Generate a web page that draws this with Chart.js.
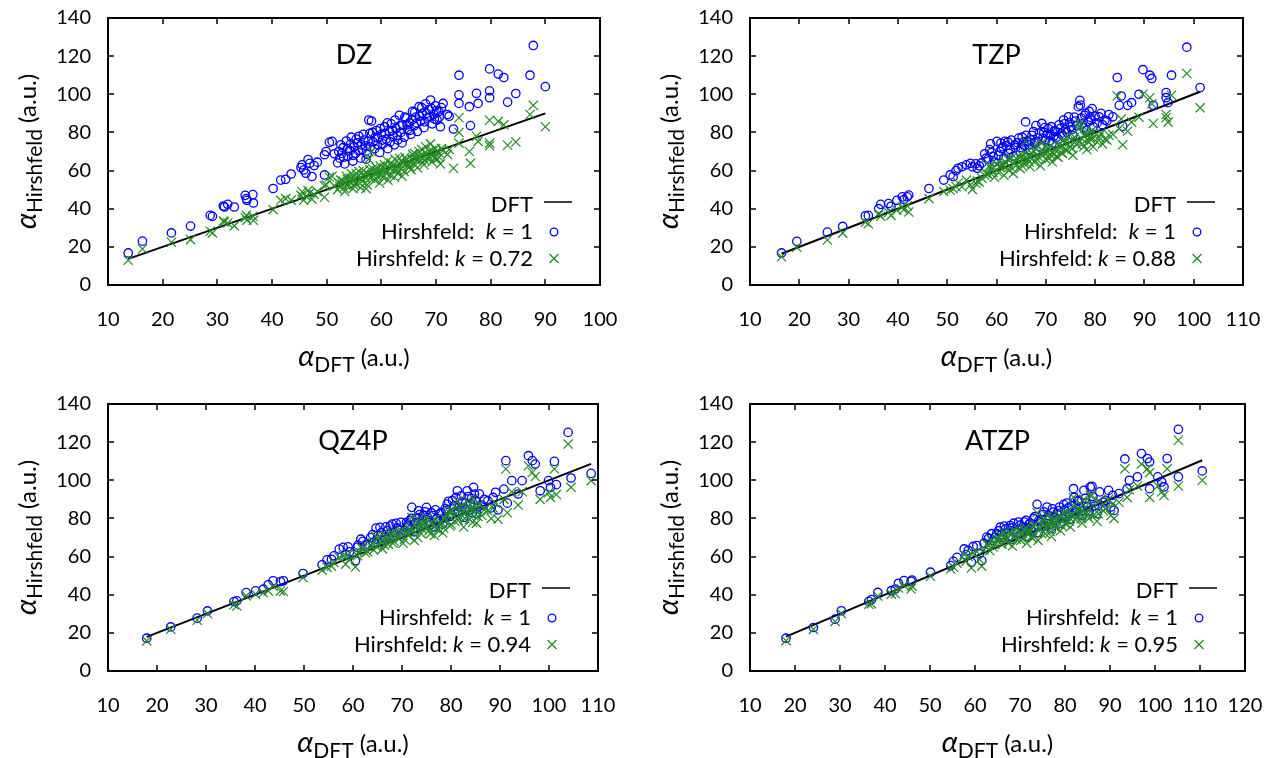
<!DOCTYPE html>
<html>
<head>
<meta charset="utf-8">
<script src="https://cdn.jsdelivr.net/npm/chart.js@4.4.0/dist/chart.umd.min.js"></script>
<style>
  body { margin: 0; background: #fff; }
  .panel { position: absolute; }
</style>
</head>
<body>
<div class="panel" style="left:0;top:0"><canvas id="dz" width="635" height="385"></canvas></div>
<div class="panel" style="left:635px;top:0"><canvas id="tzp" width="635" height="385"></canvas></div>
<div class="panel" style="left:0;top:385px"><canvas id="qz4p" width="635" height="373"></canvas></div>
<div class="panel" style="left:635px;top:385px"><canvas id="atzp" width="635" height="373"></canvas></div>
<script>
// Data (a.u.): DFT polarizability and the two Hirshfeld estimates
const yTicks = [0, 20, 40, 60, 80, 100, 120, 140];

// DZ
const dzXTicks = [10, 20, 30, 40, 50, 60, 70, 80, 90, 100];
const dzDft = [13.7, 16.3, 21.6, 25.1, 28.7, 29.1, 31.1, 31.9, 31.3, 33.1, 35.1, 35.3, 35.4, 36.5, 36.6, 40.2, 41.6, 42.5, 43.5, 45.3,
  45.5, 45.8, 46.2, 46.6, 46.9, 47.3, 47.7, 48.3, 49.6, 49.9, 49.6, 50.5, 51.0, 51.4, 52.0, 52.4, 52.8, 53.0, 53.3, 53.6,
  53.9, 54.2, 54.5, 54.8, 55.0, 55.3, 55.6, 55.9, 56.2, 56.5, 56.8, 57.1, 57.4, 57.7, 57.9, 58.2, 58.5, 58.8, 59.1, 59.4,
  59.7, 60.0, 60.3, 60.6, 60.9, 61.2, 61.5, 61.8, 62.1, 62.4, 62.7, 63.0, 63.3, 63.6, 63.9, 64.2, 64.5, 64.8, 65.1, 65.4,
  65.7, 66.0, 66.3, 66.6, 66.9, 67.2, 67.5, 67.8, 68.1, 68.4, 68.7, 69.0, 69.3, 69.6, 69.9, 70.2, 70.5, 70.8, 71.3, 72.1,
  72.4, 73.2, 74.2, 74.2, 74.2, 76.1, 76.3, 77.4, 77.7, 79.8, 79.8, 79.8, 81.4, 82.4, 83.1, 84.6, 87.2, 87.8, 90.0,
  52.2, 52.6, 53.1, 53.8, 54.4, 54.9, 55.4, 55.8, 56.3, 56.7, 57.2, 57.6, 58.0, 58.4, 58.9, 59.3, 59.8, 60.2, 60.7, 61.1,
  61.6, 62.0, 62.5, 62.9, 63.4, 63.8, 64.3, 64.7, 65.2, 65.6, 66.1, 66.5, 67.0, 67.4, 67.9, 68.3, 68.8, 69.2, 69.7, 70.1,
  70.6, 71.0];
const dzK1 = [16.8, 23.0, 27.3, 30.9, 36.5, 36.0, 41.4, 42.3, 40.9, 40.9, 47.0, 45.3, 44.4, 47.4, 43.0, 50.6, 55.0, 55.4, 58.2, 61.6,
  63.0, 60.3, 58.6, 65.8, 63.8, 56.9, 62.6, 64.4, 68.3, 70.0, 57.7, 74.8, 75.3, 68.8, 64.0, 66.5, 69.0, 72.0, 63.5, 75.5,
  67.5, 70.5, 77.5, 65.0, 72.5, 69.0, 74.5, 78.0, 66.5, 71.0, 76.0, 73.0, 68.5, 86.5, 79.5, 86.0, 75.0, 71.5, 81.0, 77.0,
  69.5, 79.0, 74.0, 83.0, 76.5, 71.5, 80.5, 84.5, 78.0, 73.5, 82.0, 76.0, 89.0, 80.0, 84.0, 77.5, 87.5, 81.5, 85.0, 79.0,
  91.0, 83.5, 88.0, 80.5, 93.5, 86.0, 90.0, 82.5, 95.0, 87.5, 92.0, 97.0, 84.5, 89.5, 94.0, 86.5, 91.0, 83.0, 95.2, 89.4,
  88.5, 81.8, 110.0, 99.7, 95.2, 93.5, 83.6, 100.5, 95.2, 113.3, 101.8, 98.2, 110.6, 108.8, 95.9, 100.4, 110.0, 125.6, 104.0,
  70.0, 73.5, 67.0, 71.5, 74.0, 68.0, 76.5, 70.5, 73.5, 79.0, 66.0, 75.5, 72.5, 80.0, 77.5, 73.5, 82.0, 76.0, 79.5, 85.0,
  75.0, 81.0, 86.5, 78.5, 83.5, 74.5, 88.0, 84.0, 81.0, 86.5, 90.5, 85.0, 88.5, 93.0, 85.5, 90.0, 88.0, 92.5, 87.0, 91.5,
  88.0, 93.0];
const dzK072 = [13.0, 18.9, 22.4, 23.8, 28.2, 27.3, 33.5, 32.5, 33.0, 31.0, 35.3, 36.5, 34.0, 36.0, 33.9, 39.5, 44.4, 45.3, 44.5, 47.0,
  48.9, 44.4, 46.5, 49.5, 48.2, 45.0, 47.5, 49.0, 52.0, 52.5, 46.0, 56.5, 57.0, 52.0, 50.0, 51.5, 53.0, 54.5, 49.0, 57.0,
  52.0, 54.0, 58.5, 50.5, 55.0, 53.0, 56.5, 59.5, 51.0, 54.5, 58.0, 56.0, 52.5, 66.0, 60.5, 70.0, 57.5, 55.0, 61.5, 59.0,
  53.5, 60.0, 56.5, 63.0, 58.5, 55.0, 61.5, 64.0, 60.0, 56.5, 62.5, 58.5, 66.5, 61.0, 64.0, 59.5, 66.0, 62.5, 64.5, 60.5,
  68.5, 63.5, 66.5, 61.5, 70.0, 65.5, 68.0, 63.0, 72.5, 66.5, 70.0, 74.0, 64.5, 68.0, 71.5, 66.0, 69.5, 63.5, 70.5, 68.5,
  71.0, 61.2, 87.7, 80.0, 74.4, 70.0, 63.8, 78.0, 75.3, 86.4, 74.4, 73.0, 85.8, 84.0, 73.3, 75.0, 89.4, 94.2, 83.0,
  53.5, 55.0, 51.0, 55.5, 56.0, 52.5, 58.5, 54.0, 56.5, 60.0, 50.5, 58.0, 56.0, 61.0, 59.5, 57.0, 62.5, 58.0, 61.0, 65.0,
  57.5, 62.0, 66.0, 60.5, 63.5, 57.0, 67.0, 64.0, 62.0, 66.0, 69.0, 65.0, 67.5, 71.0, 65.5, 69.0, 67.0, 70.5, 66.5, 70.0,
  67.0, 71.5];

// TZP
const tzpXTicks = [10, 20, 30, 40, 50, 60, 70, 80, 90, 100, 110];
const tzpDft = [16.4, 19.5, 25.7, 28.8, 33.4, 34.0, 36.1, 36.5, 38.1, 38.6, 39.8, 40.9, 41.2, 41.9, 42.2, 46.3, 49.3, 50.6, 51.2, 51.8,
  52.2, 53.0, 53.9, 54.7, 55.1, 55.8, 56.1, 57.6, 58.8, 60.1, 60.9, 61.7, 58.3, 59.0, 59.6, 60.4, 61.0, 61.5, 62.0, 62.5,
  63.0, 63.4, 63.9, 64.3, 64.8, 65.2, 65.7, 65.9, 66.3, 66.8, 67.2, 67.7, 68.0, 68.4, 68.9, 69.2, 69.6, 70.0, 70.5, 70.9,
  71.3, 71.8, 72.2, 72.7, 73.1, 73.6, 74.0, 74.6, 75.0, 75.5, 76.0, 76.6, 76.9, 77.0, 77.4, 77.9, 78.3, 78.8, 79.2, 79.6,
  80.0, 80.8, 81.5, 82.0, 82.8, 83.6, 84.5, 84.9, 85.3, 85.6, 86.6, 87.4, 88.9, 89.7, 91.1, 91.5, 91.8, 94.4, 94.4, 94.8,
  95.5, 98.6, 101.3,
  56.5, 57.0, 57.9, 58.6, 59.3, 60.7, 61.3, 62.3, 62.8, 63.7, 64.5, 65.0, 65.5, 66.0, 66.6, 67.0, 67.5, 68.2, 68.7, 69.4,
  69.8, 70.3, 70.7, 71.1, 71.6, 72.0, 72.5, 72.9, 73.4, 73.8, 74.3, 74.8, 75.3, 75.8, 76.3, 77.2, 77.7, 78.1, 78.6, 79.0,
  79.4, 80.4, 81.2, 82.4];
const tzpK1 = [16.8, 22.9, 27.7, 30.7, 36.3, 36.5, 40.0, 42.3, 42.7, 41.3, 44.4, 46.2, 44.8, 46.2, 47.1, 50.6, 55.0, 57.7, 56.8, 60.0,
  61.2, 62.0, 63.0, 63.8, 62.0, 63.5, 61.2, 68.8, 74.0, 75.3, 74.4, 75.3, 66.0, 69.5, 64.5, 68.0, 71.5, 66.5, 73.0, 69.0,
  76.0, 67.5, 72.0, 74.5, 70.0, 77.5, 73.0, 85.5, 75.5, 71.0, 78.5, 74.5, 83.6, 77.0, 72.5, 84.7, 80.0, 76.0, 82.0, 78.5,
  74.5, 81.0, 77.5, 84.0, 79.5, 86.5, 81.5, 88.2, 83.0, 78.5, 86.0, 93.5, 96.8, 94.3, 84.5, 89.0, 81.0, 91.0, 86.5, 83.0,
  88.5, 88.2, 84.0, 86.5, 89.4, 88.2, 108.8, 94.2, 99.1, 83.2, 94.2, 95.6, 100.0, 112.9, 110.0, 108.3, 94.2, 100.9, 98.2, 95.6,
  110.0, 124.7, 103.5,
  62.5, 64.0, 66.5, 71.0, 67.5, 70.0, 72.5, 75.0, 71.0, 73.5, 77.0, 72.0, 75.0, 78.5, 73.5, 76.0, 80.5, 75.0, 79.5, 77.0,
  82.5, 79.0, 75.5, 83.0, 78.0, 80.5, 76.5, 82.0, 78.5, 84.5, 80.0, 85.0, 81.5, 88.0, 83.5, 87.5, 82.5, 90.0, 85.5, 88.0,
  92.5, 85.0, 90.0, 86.0];
const tzpK088 = [14.8, 19.8, 23.6, 27.2, 33.0, 32.1, 37.4, 36.0, 38.0, 36.5, 39.2, 40.9, 39.5, 41.5, 38.3, 45.3, 49.0, 49.7, 50.5, 51.5,
  53.5, 51.5, 55.0, 52.4, 50.1, 53.3, 54.5, 57.5, 62.0, 63.5, 62.0, 64.5, 58.0, 60.5, 56.5, 59.0, 63.0, 57.5, 64.0, 60.0,
  66.5, 58.5, 62.5, 65.5, 61.0, 68.0, 63.5, 75.5, 66.0, 62.0, 69.0, 64.5, 73.5, 67.5, 62.5, 74.5, 70.0, 66.0, 72.0, 68.5,
  64.5, 71.0, 67.5, 73.5, 69.5, 76.0, 71.0, 77.5, 72.5, 68.0, 75.5, 82.0, 85.0, 83.0, 74.0, 78.0, 71.0, 80.0, 76.0, 72.5,
  78.0, 77.5, 74.0, 76.5, 78.5, 79.0, 99.1, 82.0, 87.0, 73.5, 80.6, 85.4, 88.0, 100.0, 98.2, 95.0, 84.7, 89.4, 87.7, 85.4,
  99.5, 110.9, 92.9,
  54.0, 56.0, 58.5, 62.5, 59.0, 61.5, 63.0, 66.0, 62.0, 64.5, 67.5, 63.0, 66.0, 69.0, 64.5, 67.0, 70.5, 66.0, 69.5, 68.0,
  72.5, 69.5, 66.5, 73.0, 68.5, 71.0, 67.0, 72.0, 69.0, 74.5, 70.5, 75.0, 71.5, 77.5, 73.5, 77.0, 72.5, 79.5, 75.5, 77.5,
  81.0, 75.0, 79.5, 76.0];

// QZ4P
const qzXTicks = [10, 20, 30, 40, 50, 60, 70, 80, 90, 100, 110];
const qzDft = [17.9, 22.8, 28.2, 30.3, 35.7, 36.3, 38.2, 40.1, 41.7, 42.7, 43.7, 45.2, 45.8, 49.8, 53.7, 54.7, 55.6, 56.1, 57.2, 58.0,
  58.5, 59.0, 59.3, 60.5, 60.9, 61.6, 62.5, 63.6, 64.2, 64.7, 65.1, 65.5, 66.0, 66.7, 67.2, 68.0, 68.4, 68.8, 69.5, 70.2,
  70.9, 71.3, 71.7, 72.0, 72.5, 73.0, 73.4, 73.9, 74.3, 75.0, 75.5, 76.0, 76.6, 77.1, 77.7, 78.3, 78.8, 79.2, 79.8, 80.3,
  80.8, 81.3, 81.7, 82.1, 82.6, 83.0, 83.3, 83.8, 84.2, 84.6, 84.8, 85.2, 85.8, 86.3, 87.5, 88.2, 89.1, 89.6, 90.8, 91.2,
  91.5, 92.4, 93.7, 94.5, 95.8, 96.6, 97.2, 98.2, 99.9, 100.3, 101.1, 101.5, 103.9, 104.5, 108.6,
  61.0, 62.0, 63.0, 64.0, 64.9, 65.8, 66.4, 67.0, 67.6, 68.2, 69.0, 69.8, 70.5, 71.1, 71.9, 72.7, 73.2, 73.6, 74.1, 74.7,
  75.2, 75.8, 76.3, 76.8, 77.4, 78.0, 78.5, 79.0, 79.5, 80.0, 80.6, 81.0, 81.5, 82.3, 82.8, 83.5, 84.0, 84.4, 85.0, 85.5,
  86.8, 88.6];
const qzK1 = [17.2, 23.1, 27.7, 31.5, 36.4, 36.8, 41.1, 42.0, 42.9, 45.2, 47.3, 46.9, 47.3, 51.1, 55.7, 58.3, 58.6, 60.4, 63.9, 64.8,
  61.0, 65.1, 62.5, 57.8, 64.8, 69.1, 66.0, 70.0, 67.5, 74.9, 71.0, 75.3, 68.5, 75.6, 70.5, 77.0, 72.5, 77.4, 74.0, 71.5,
  77.9, 75.5, 78.8, 85.8, 73.0, 80.5, 84.0, 76.5, 81.5, 85.8, 78.0, 83.0, 75.5, 80.0, 82.5, 77.0, 85.0, 87.5, 81.0, 89.5,
  83.5, 94.5, 86.0, 91.9, 80.5, 88.0, 94.5, 84.5, 90.5, 96.3, 92.8, 82.5, 92.8, 87.0, 89.3, 85.5, 93.7, 84.5, 95.4, 110.3,
  88.0, 99.8, 92.8, 99.8, 112.9, 110.3, 108.5, 94.5, 99.8, 96.3, 109.9, 97.7, 125.1, 101.2, 103.6,
  66.0, 68.0, 66.5, 71.5, 69.0, 72.5, 70.0, 73.5, 76.0, 71.0, 75.0, 78.0, 73.5, 76.5, 80.0, 77.5, 74.5, 82.0, 79.0, 83.5,
  80.5, 76.5, 81.5, 84.5, 78.5, 83.0, 80.0, 84.0, 89.0, 82.0, 86.5, 91.0, 84.0, 88.5, 85.0, 91.5, 87.5, 83.0, 89.5, 86.0,
  90.0, 91.0];
const qzK094 = [15.8, 21.9, 26.6, 30.1, 34.7, 34.1, 39.4, 40.3, 41.0, 42.0, 44.5, 42.0, 41.7, 49.0, 52.9, 54.3, 55.0, 56.9, 59.5, 60.5,
  56.0, 61.0, 58.5, 54.5, 60.5, 65.0, 62.0, 66.0, 63.5, 70.5, 66.5, 70.5, 64.0, 71.0, 66.5, 72.5, 68.0, 72.5, 69.5, 67.0,
  73.0, 71.0, 74.0, 80.5, 68.5, 75.5, 79.0, 72.0, 76.5, 80.5, 73.5, 78.0, 71.0, 75.0, 77.5, 72.5, 80.0, 82.0, 76.0, 84.0,
  78.5, 89.0, 81.0, 86.5, 75.5, 83.0, 89.0, 79.5, 85.0, 90.5, 87.0, 77.5, 87.5, 81.5, 84.0, 80.0, 88.0, 79.6, 90.0, 105.9,
  83.0, 94.0, 87.0, 94.0, 107.6, 104.1, 102.0, 90.0, 93.5, 91.0, 105.9, 92.5, 119.0, 96.3, 99.8,
  62.0, 64.0, 62.5, 67.0, 65.0, 68.0, 66.0, 69.0, 71.5, 67.0, 70.5, 73.5, 69.0, 72.0, 75.0, 73.0, 70.0, 77.0, 74.5, 78.5,
  75.5, 72.0, 76.5, 79.5, 74.0, 78.0, 75.0, 79.0, 83.5, 77.0, 81.5, 85.5, 79.0, 83.5, 80.0, 86.0, 82.5, 78.0, 84.0, 81.0,
  84.5, 85.5];

// ATZP
const atzpXTicks = [10, 20, 30, 40, 50, 60, 70, 80, 90, 100, 110, 120];
const atzpDft = [18.0, 24.1, 28.9, 30.3, 36.4, 37.0, 38.4, 41.4, 42.3, 43.0, 44.2, 45.8, 46.0, 50.1, 54.6, 55.2, 56.0, 57.6, 58.0, 58.5,
  59.2, 59.6, 60.4, 61.0, 61.5, 62.6, 63.3, 64.0, 64.8, 65.6, 66.0, 66.5, 67.0, 67.8, 68.3, 68.8, 69.7, 70.2, 70.6, 71.0,
  71.5, 72.0, 72.5, 73.0, 73.8, 74.0, 74.5, 75.0, 75.6, 76.0, 76.5, 77.0, 77.4, 78.0, 78.5, 79.0, 79.7, 80.2, 80.7, 81.2,
  81.9, 82.3, 82.8, 83.3, 83.8, 84.2, 84.8, 85.3, 85.6, 86.0, 86.5, 87.1, 87.7, 88.5, 89.7, 90.2, 90.6, 90.9, 92.0, 93.3,
  93.8, 94.3, 96.1, 97.0, 98.3, 98.8, 98.8, 100.6, 101.5, 102.0, 102.7, 105.2, 105.2, 110.5,
  62.0, 63.0, 63.7, 64.4, 65.2, 65.9, 66.8, 67.4, 68.0, 68.6, 69.2, 70.0, 70.8, 71.3, 71.8, 72.3, 72.8, 73.3, 74.2, 74.8,
  75.3, 75.8, 76.3, 76.8, 77.2, 77.7, 78.2, 78.8, 79.3, 79.9, 80.4, 80.9, 81.5, 82.0, 82.6, 83.1, 83.6, 84.5, 85.0, 86.2,
  87.4, 89.0];
const atzpK1 = [17.2, 22.8, 27.2, 31.6, 36.5, 37.4, 41.2, 42.1, 43.0, 46.0, 47.4, 47.0, 47.7, 51.8, 55.3, 57.5, 59.6, 64.0, 61.0, 63.2,
  57.0, 65.3, 65.8, 61.5, 57.9, 70.2, 66.0, 68.5, 72.0, 75.4, 70.0, 76.0, 72.5, 76.3, 69.0, 74.0, 78.1, 72.0, 75.5, 78.1,
  70.5, 77.0, 74.0, 80.0, 87.4, 72.5, 78.5, 82.0, 76.0, 86.0, 80.0, 74.5, 83.3, 79.0, 84.0, 77.5, 87.4, 81.0, 85.5, 79.5,
  95.6, 83.5, 89.0, 86.0, 81.5, 94.7, 88.0, 84.0, 96.5, 96.8, 86.5, 82.5, 93.9, 88.5, 94.7, 86.0, 92.1, 84.2, 93.0, 111.2,
  95.6, 100.0, 101.8, 114.0, 111.4, 109.6, 95.6, 101.8, 99.1, 96.5, 111.4, 126.7, 101.8, 104.9,
  67.0, 69.5, 72.0, 70.0, 73.5, 71.5, 74.5, 70.5, 75.0, 77.5, 72.5, 76.5, 73.5, 79.0, 75.0, 77.5, 73.0, 81.0, 79.0, 76.0,
  83.5, 79.5, 81.5, 77.0, 85.0, 80.5, 82.5, 86.0, 80.0, 84.5, 88.0, 82.5, 86.5, 91.0, 85.0, 89.5, 84.0, 90.5, 86.0, 91.5,
  87.0, 89.5];
const atzpK095 = [15.9, 21.8, 26.0, 30.1, 35.0, 35.3, 39.3, 40.3, 40.5, 43.5, 45.0, 43.0, 44.5, 49.7, 53.5, 54.5, 56.5, 61.0, 57.5, 60.0,
  54.0, 62.0, 62.5, 58.5, 55.0, 66.5, 63.0, 65.0, 68.5, 71.5, 66.5, 72.5, 69.0, 72.5, 65.5, 70.5, 74.0, 68.5, 72.0, 74.0,
  67.0, 73.0, 70.5, 76.0, 83.0, 68.5, 74.5, 78.0, 72.0, 81.5, 76.0, 70.5, 79.0, 75.0, 80.0, 73.5, 83.0, 77.0, 81.0, 75.5,
  91.0, 79.5, 84.5, 82.0, 77.5, 90.0, 83.5, 80.0, 92.0, 92.0, 82.0, 78.5, 89.0, 84.0, 90.0, 81.5, 87.5, 80.0, 88.5, 106.0,
  91.0, 95.0, 97.0, 108.5, 106.0, 104.0, 91.0, 97.0, 94.0, 92.0, 106.0, 121.0, 97.0, 100.0,
  63.5, 66.0, 68.5, 66.5, 70.0, 68.0, 71.0, 67.0, 71.5, 73.5, 69.0, 72.5, 70.0, 75.0, 71.5, 73.5, 69.5, 77.0, 75.0, 72.0,
  79.5, 75.5, 77.5, 73.0, 81.0, 76.5, 78.5, 81.5, 76.0, 80.0, 83.5, 78.5, 82.0, 86.5, 80.5, 85.0, 80.0, 86.0, 82.0, 87.0,
  82.5, 85.0];

const FONT = "Lato, 'Noto Sans', sans-serif";
const BLUE = '#0000ff';
const GREEN = '#228b22';

const panels = [
  { id: 'dz', title: 'DZ', dft: dzDft, k1: dzK1, kf: dzK072, kText: '0.72', xTicks: dzXTicks,
    W: 635, H: 385, area: { left: 108, right: 600, top: 18, bottom: 285 } },
  { id: 'tzp', title: 'TZP', dft: tzpDft, k1: tzpK1, kf: tzpK088, kText: '0.88', xTicks: tzpXTicks,
    W: 635, H: 385, area: { left: 115, right: 608, top: 18, bottom: 285 } },
  { id: 'qz4p', title: 'QZ4P', dft: qzDft, k1: qzK1, kf: qzK094, kText: '0.94', xTicks: qzXTicks,
    W: 635, H: 373, area: { left: 108, right: 598, top: 19, bottom: 286 } },
  { id: 'atzp', title: 'ATZP', dft: atzpDft, k1: atzpK1, kf: atzpK095, kText: '0.95', xTicks: atzpXTicks,
    W: 635, H: 373, area: { left: 115, right: 610, top: 19, bottom: 286 } }
];

// draw a run of text pieces (different fonts / baseline shifts) starting at x
function drawRuns(ctx, runs, x, y) {
  runs.forEach(r => {
    ctx.font = r.font;
    ctx.fillText(r.text, x, y + (r.dy || 0));
    x += ctx.measureText(r.text).width;
  });
}
function runsWidth(ctx, runs) {
  let w = 0;
  runs.forEach(r => { ctx.font = r.font; w += ctx.measureText(r.text).width; });
  return w;
}

function axisTitle(sub) {
  return [
    { text: 'α', font: `italic 29px ${FONT}` },
    { text: sub, font: `21px ${FONT}`, dy: 6 },
    { text: ' (a.u.)', font: `24px ${FONT}` }
  ];
}

const gnuplotDecor = {
  id: 'gnuplotDecor',
  afterDraw(chart, args, opts) {
    const ctx = chart.ctx;
    const a = chart.chartArea;
    const xs = chart.scales.x, ys = chart.scales.y;
    ctx.save();
    ctx.strokeStyle = '#000';
    ctx.fillStyle = '#000';
    // border
    ctx.lineWidth = 2;
    ctx.strokeRect(a.left, a.top, a.right - a.left, a.bottom - a.top);
    // inward ticks, mirrored
    ctx.lineWidth = 1.5;
    ctx.beginPath();
    yTicks.forEach(v => {
      const py = Math.round(ys.getPixelForValue(v));
      ctx.moveTo(a.left, py); ctx.lineTo(a.left + 6, py);
      ctx.moveTo(a.right, py); ctx.lineTo(a.right - 6, py);
    });
    opts.xTicks.forEach(v => {
      const px = Math.round(xs.getPixelForValue(v));
      ctx.moveTo(px, a.bottom); ctx.lineTo(px, a.bottom - 6);
      ctx.moveTo(px, a.top); ctx.lineTo(px, a.top + 6);
    });
    ctx.stroke();

    // panel title
    ctx.font = `27px ${FONT}`;
    ctx.textAlign = 'center';
    ctx.textBaseline = 'alphabetic';
    ctx.fillText(opts.title, (a.left + a.right) / 2, a.top + 46);

    // legend
    ctx.textAlign = 'left';
    const tx = a.right - 67, sx = a.right - 42;
    const f = `22px ${FONT}`, fi = `italic 22px ${FONT}`;
    const rows = [
      [{ text: 'DFT', font: f }],
      [{ text: 'Hirshfeld:  ', font: f }, { text: 'k', font: fi }, { text: ' = 1', font: f }],
      [{ text: 'Hirshfeld: ', font: f }, { text: 'k', font: fi }, { text: ' = ' + opts.kText, font: f }]
    ];
    const base = [a.top + 194, a.top + 221, a.top + 248];
    rows.forEach((r, i) => drawRuns(ctx, r, tx - runsWidth(ctx, r), base[i]));
    ctx.lineWidth = 1.5;
    ctx.beginPath();
    ctx.moveTo(sx - 14, base[0] - 10); ctx.lineTo(sx + 14, base[0] - 10);
    ctx.stroke();
    ctx.strokeStyle = BLUE; ctx.lineWidth = 1.3;
    ctx.beginPath(); ctx.arc(sx - 4, base[1] - 7, 3.8, 0, Math.PI * 2); ctx.stroke();
    ctx.strokeStyle = GREEN;
    ctx.beginPath();
    ctx.moveTo(sx - 8.5, base[2] - 12); ctx.lineTo(sx + 0.5, base[2] - 3);
    ctx.moveTo(sx + 0.5, base[2] - 12); ctx.lineTo(sx - 8.5, base[2] - 3);
    ctx.stroke();

    // axis titles
    ctx.fillStyle = '#000';
    const xr = axisTitle('DFT');
    drawRuns(ctx, xr, (a.left + a.right) / 2 - runsWidth(ctx, xr) / 2, a.bottom + 81);
    const yr = axisTitle('Hirshfeld');
    ctx.translate(a.left - 72, (a.top + a.bottom) / 2);
    ctx.rotate(-Math.PI / 2);
    drawRuns(ctx, yr, -runsWidth(ctx, yr) / 2, 0);
    ctx.restore();
  }
};

// the tick-label padding must not enlarge the plot margins
function noScalePadding(s) {
  s.paddingTop = 0; s.paddingBottom = 0; s.paddingLeft = 0; s.paddingRight = 0;
}

panels.forEach(p => {
  const a = p.area;
  const lo = Math.min(...p.dft), hi = Math.max(...p.dft);
  new Chart(document.getElementById(p.id), {
    type: 'scatter',
    data: {
      datasets: [
        { label: 'Hirshfeld: k = ' + p.kText, data: p.dft.map((x, i) => ({ x, y: p.kf[i] })),
          pointStyle: 'crossRot', pointRadius: 6.5, borderColor: GREEN, borderWidth: 1.2, order: 1 },
        { label: 'Hirshfeld: k = 1', data: p.dft.map((x, i) => ({ x, y: p.k1[i] })),
          pointStyle: 'circle', pointRadius: 4.2, borderColor: BLUE, backgroundColor: 'rgba(0,0,0,0)', borderWidth: 1.3, order: 2 },
        { label: 'DFT', type: 'line', data: [{ x: lo, y: lo }, { x: hi, y: hi }],
          borderColor: '#000', borderWidth: 2, pointRadius: 0, fill: false, order: 3 }
      ]
    },
    options: {
      responsive: false,
      animation: false,
      events: [],
      layout: { padding: { left: 0, top: a.top, right: p.W - a.right, bottom: 0 } },
      plugins: {
        legend: { display: false },
        tooltip: { enabled: false },
        gnuplotDecor: { title: p.title, kText: p.kText, xTicks: p.xTicks }
      },
      scales: {
        x: {
          type: 'linear',
          min: p.xTicks[0], max: p.xTicks[p.xTicks.length - 1],
          grid: { display: false, drawTicks: false },
          border: { display: false },
          ticks: { font: { family: FONT, size: 20 }, color: '#000', padding: 23, maxRotation: 0, autoSkip: false },
          afterBuildTicks: s => { s.ticks = p.xTicks.map(v => ({ value: v })); },
          afterFit: s => { s.height = p.H - a.bottom; noScalePadding(s); }
        },
        y: {
          min: yTicks[0], max: yTicks[yTicks.length - 1],
          grid: { display: false, drawTicks: false },
          border: { display: false },
          ticks: { font: { family: FONT, size: 20 }, color: '#000', padding: 17 },
          afterBuildTicks: s => { s.ticks = yTicks.map(v => ({ value: v })); },
          afterFit: s => { s.width = a.left; noScalePadding(s); }
        }
      }
    },
    plugins: [gnuplotDecor]
  });
});
</script>
</body>
</html>
